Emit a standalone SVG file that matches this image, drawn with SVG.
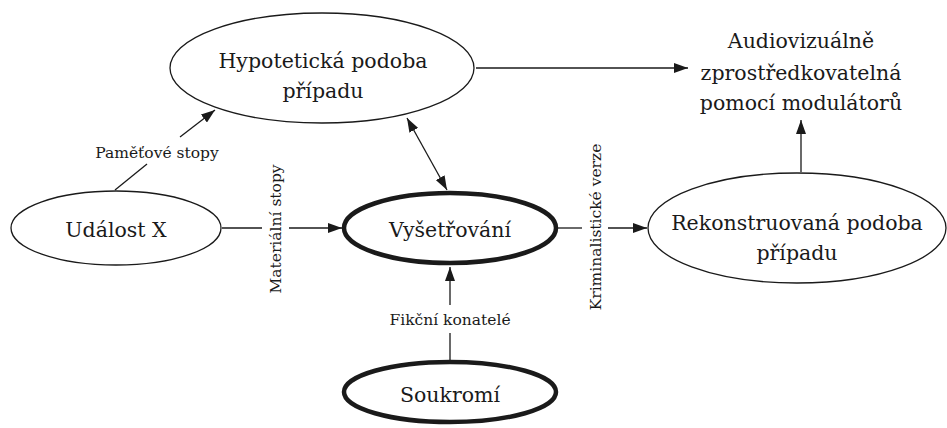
<svg xmlns="http://www.w3.org/2000/svg" width="947" height="428" viewBox="0 0 947 428">
<style>
.n{fill:#fff;stroke:#1a1a1a;stroke-width:1.3}
.b{fill:#fff;stroke:#1a1a1a;stroke-width:4.5}
.t{font-family:"DejaVu Serif","Liberation Serif",serif;font-size:20.5px;fill:#1a1a1a;text-anchor:middle}
.l{font-family:"DejaVu Serif","Liberation Serif",serif;font-size:15.5px;fill:#1a1a1a;text-anchor:middle}
.e{fill:none;stroke:#1a1a1a;stroke-width:1.3}
</style>
<defs>
<marker id="ah" viewBox="0 0 14 10" refX="14" refY="5" markerWidth="14" markerHeight="10" markerUnits="userSpaceOnUse" orient="auto-start-reverse">
<path d="M0,0 L14,5 L0,10 z" fill="#1a1a1a"/>
</marker>
</defs>
<g id="connectors">
<line class="e" x1="476" y1="68" x2="688" y2="68" marker-end="url(#ah)"/>
<line class="e" x1="801" y1="172" x2="801" y2="120" marker-end="url(#ah)"/>
<line class="e" x1="222" y1="228" x2="262" y2="228"/>
<line class="e" x1="289" y1="228" x2="342" y2="228" marker-end="url(#ah)"/>
<line class="e" x1="558" y1="228" x2="582" y2="228"/>
<line class="e" x1="608" y1="228" x2="647" y2="228" marker-end="url(#ah)"/>
<line class="e" x1="450" y1="361" x2="450" y2="333"/>
<line class="e" x1="450" y1="305" x2="450" y2="267" marker-end="url(#ah)"/>
<line class="e" x1="115" y1="190" x2="147" y2="164"/>
<line class="e" x1="180" y1="137" x2="215" y2="110" marker-end="url(#ah)"/>
<line class="e" x1="407" y1="118" x2="447" y2="190" marker-start="url(#ah)" marker-end="url(#ah)"/>
<text class="l" x="157" y="158">Paměťové stopy</text>
<text class="l" transform="translate(281,229) rotate(-90)">Materiální stopy</text>
<text class="l" transform="translate(601,227) rotate(-90)">Kriminalistické verze</text>
<text class="l" x="450" y="325">Fikční konatelé</text>
</g>
<g id="hypoteticka">
<ellipse class="n" cx="322" cy="68" rx="152" ry="55"/>
<text class="t" x="323" y="68">Hypotetická podoba</text>
<text class="t" x="323" y="98">případu</text>
</g>
<g id="audio">
<text class="t" x="801" y="48">Audiovizuálně</text>
<text class="t" x="801" y="80">zprostředkovatelná</text>
<text class="t" x="801" y="110">pomocí modulátorů</text>
</g>
<g id="udalost">
<ellipse class="n" cx="116" cy="228" rx="105" ry="37"/>
<text class="t" x="116" y="237">Událost X</text>
</g>
<g id="vysetrovani">
<ellipse class="b" cx="450" cy="228" rx="106" ry="35"/>
<text class="t" x="450" y="237">Vyšetřování</text>
</g>
<g id="soukromi">
<ellipse class="b" cx="450" cy="392" rx="106" ry="30"/>
<text class="t" x="450" y="402">Soukromí</text>
</g>
<g id="rekonstruovana">
<ellipse class="n" cx="797" cy="228" rx="149" ry="55"/>
<text class="t" x="797" y="230">Rekonstruovaná podoba</text>
<text class="t" x="797" y="260">případu</text>
</g>
</svg>
